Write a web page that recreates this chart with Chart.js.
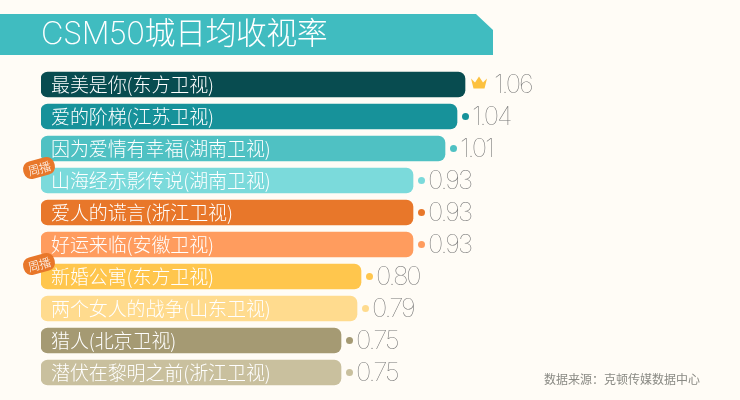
<!DOCTYPE html>
<html>
<head>
<meta charset="utf-8">
<style>
  html, body { margin: 0; padding: 0; background: #fffcf6; }
  #box { position: relative; width: 740px; height: 400px; }
</style>
<script src="https://cdn.jsdelivr.net/npm/chart.js@4"></script>
</head>
<body>
<div id="box"><canvas id="chart"></canvas></div>
<script>
// 数据
const titleText = 'CSM50城日均收视率';
const sourceText = '数据来源：克顿传媒数据中心';
const badgeText = '周播';
const shows = [
  '最美是你(东方卫视)', '爱的阶梯(江苏卫视)', '因为爱情有幸福(湖南卫视)',
  '山海经赤影传说(湖南卫视)', '爱人的谎言(浙江卫视)', '好运来临(安徽卫视)',
  '新婚公寓(东方卫视)', '两个女人的战争(山东卫视)', '猎人(北京卫视)', '潜伏在黎明之前(浙江卫视)'
];
const ratings = [1.06, 1.04, 1.01, 0.93, 0.93, 0.93, 0.80, 0.79, 0.75, 0.75];
const weeklyShows = ['山海经赤影传说(湖南卫视)', '新婚公寓(东方卫视)'];
const barColors = [
  '#084c50', '#17929a', '#4fc1c3', '#7bdadb', '#e8772a',
  '#ff9c5e', '#ffc64d', '#ffdb8e', '#a59a73', '#c9c09e'
];

const CJK = '"Noto Sans CJK SC", sans-serif';

// 标题、标签、数值
const decorations = {
  id: 'decorations',
  beforeDatasetsDraw(chart) {
    const ctx = chart.ctx;
    ctx.save();
    ctx.fillStyle = '#40bcc0';
    ctx.beginPath();
    ctx.moveTo(0, 14);
    ctx.lineTo(476, 14);
    ctx.lineTo(493, 30);
    ctx.lineTo(493, 55);
    ctx.lineTo(0, 55);
    ctx.closePath();
    ctx.fill();
    ctx.fillStyle = '#fff';
    ctx.textBaseline = 'middle';
    ctx.font = '200 31px Inter, ' + CJK;
    ctx.letterSpacing = '-0.55px';
    ctx.fillText(titleText, 41, 35);
    ctx.restore();
  },
  afterDatasetsDraw(chart) {
    const ctx = chart.ctx;
    const xs = chart.scales.x;
    const ys = chart.scales.y;
    ctx.save();
    ctx.textBaseline = 'middle';
    shows.forEach((name, i) => {
      const y = ys.getPixelForValue(i);
      const end = xs.getPixelForValue(ratings[i]);
      ctx.fillStyle = '#fff';
      ctx.font = '300 19px ' + CJK;
      ctx.letterSpacing = '-0.1px';
      ctx.fillText(name, 51, y + 0.5);

      ctx.fillStyle = i === 0 ? '#fcc13f' : barColors[i];
      if (i === 0) {
        drawCrown(ctx, end + 14, y - 2);
      } else {
        ctx.beginPath();
        ctx.arc(end + 8.5, y, 3.5, 0, Math.PI * 2);
        ctx.fill();
      }

      ctx.fillStyle = '#777';
      ctx.font = '100 26px Inter, sans-serif';
      ctx.letterSpacing = '-2.1px';
      ctx.fillText(ratings[i].toFixed(2), end + (i === 0 ? 29 : 15), y + 0.5);

      if (weeklyShows.includes(name)) drawBadge(ctx, 39, y - 12.5);
    });
    ctx.fillStyle = '#8a8a84';
    ctx.font = '12px ' + CJK;
    ctx.letterSpacing = '0px';
    ctx.fillText(sourceText, 544, 379);
    ctx.restore();
  }
};

function drawCrown(ctx, cx, cy) {
  ctx.beginPath();
  ctx.moveTo(cx - 8, cy - 4);
  ctx.lineTo(cx - 4, cy);
  ctx.lineTo(cx, cy - 6);
  ctx.lineTo(cx + 4, cy);
  ctx.lineTo(cx + 8, cy - 4);
  ctx.lineTo(cx + 5.5, cy + 6);
  ctx.lineTo(cx - 5.5, cy + 6);
  ctx.closePath();
  ctx.fill();
}

function drawBadge(ctx, cx, cy) {
  ctx.save();
  ctx.translate(cx, cy);
  ctx.rotate(-15 * Math.PI / 180);
  ctx.fillStyle = '#e8772a';
  ctx.beginPath();
  ctx.roundRect(-16, -9, 32, 18, 8);
  ctx.fill();
  ctx.fillStyle = '#fff';
  ctx.font = '300 12px ' + CJK;
  ctx.letterSpacing = '-0.5px';
  ctx.textAlign = 'center';
  ctx.fillText(badgeText, 0, 0.5);
  ctx.restore();
}

new Chart(document.getElementById('chart'), {
  type: 'bar',
  data: {
    labels: shows,
    datasets: [{
      data: ratings,
      backgroundColor: barColors,
      borderRadius: 7,
      borderSkipped: false,
      barThickness: 25
    }]
  },
  options: {
    indexAxis: 'y',
    responsive: true,
    maintainAspectRatio: false,
    animation: false,
    layout: { padding: { left: 41, top: 68.5, bottom: 11.5, right: 0 } },
    plugins: {
      legend: { display: false },
      tooltip: { enabled: false }
    },
    scales: {
      x: { display: false, min: 0, max: 1.7475 },
      y: { display: false }
    }
  },
  plugins: [decorations]
});
</script>
</body>
</html>
